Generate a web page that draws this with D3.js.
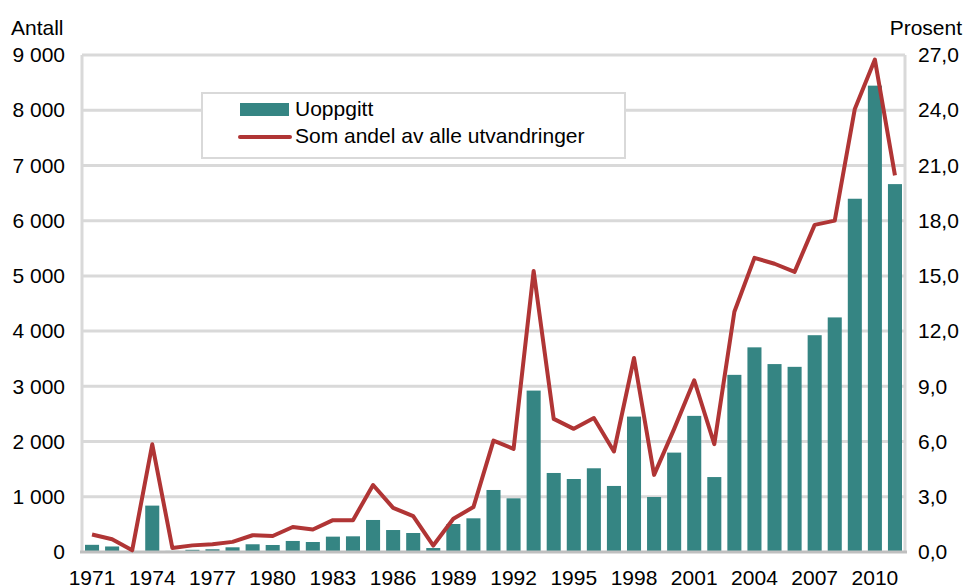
<!DOCTYPE html>
<html>
<head>
<meta charset="utf-8">
<script src="https://cdn.jsdelivr.net/npm/d3@7"></script>
<style>
  body { margin: 0; background: #fff; }
  svg text { font-family: "Liberation Sans", Arial, sans-serif; fill: #000; }
</style>
</head>
<body>
<svg id="chart" width="965" height="586"></svg>
<script>
var years = d3.range(1971, 2012);
var uoppgitt = [130, 100, 10, 840, 20, 40, 50, 85, 140, 127, 200, 181, 278, 284, 580, 398, 344, 72,
	507, 610, 1123, 972, 2923, 1431, 1322, 1516, 1196, 2452, 996, 1800, 2465, 1357,
	3208, 3706, 3403, 3353, 3926, 4248, 6397, 8445, 6662];
var andel = [0.95, 0.69, 0.09, 5.85, 0.22, 0.36, 0.42, 0.55, 0.91, 0.87, 1.36, 1.22, 1.73, 1.73, 3.64, 2.4, 1.95, 0.35,
	1.81, 2.44, 6.05, 5.6, 15.27, 7.23, 6.69, 7.28, 5.46, 10.54, 4.19, 6.69, 9.33, 5.86,
	13.05, 15.98, 15.66, 15.22, 17.77, 18.0, 24.07, 26.75, 20.46];
var leftTicks = d3.range(0, 9001, 1000);
var rightTicks = d3.range(0, 27.1, 3);
var xTickYears = d3.range(1971, 2011, 3);

var svg = d3.select("#chart"),
	margin = {top: 55, right: 60, bottom: 34, left: 82},
	width = 905 - margin.left,
	height = 552 - margin.top,
	g = svg.append("g").attr("transform", "translate(" + margin.left + "," + margin.top + ")");

var x = d3.scaleBand().domain(years).range([0, width]).paddingInner(0.3).paddingOuter(0.15);
var yL = d3.scaleLinear().domain([0, 9000]).range([height, 0]);
var yR = d3.scaleLinear().domain([0, 27]).range([height, 0]);

var fmtL = function(d) { return d3.format(",")(d).replace(/,/g, " "); };
var fmtR = function(d) { return d3.format(".1f")(d).replace(".", ","); };

// gridlines
g.append("g")
	.selectAll("line")
	.data(leftTicks.slice(1))
	.enter().append("line")
	.attr("x1", 0).attr("x2", width)
	.attr("y1", function(d) { return yL(d); })
	.attr("y2", function(d) { return yL(d); })
	.attr("stroke", "#d9d9d9")
	.attr("stroke-width", 3);

// side borders
g.append("line").attr("x1", 0).attr("x2", 0).attr("y1", 0).attr("y2", height)
	.attr("stroke", "#d9d9d9").attr("stroke-width", 3);
g.append("line").attr("x1", width).attr("x2", width).attr("y1", 0).attr("y2", height)
	.attr("stroke", "#d9d9d9").attr("stroke-width", 3);

// bars
g.append("g")
	.selectAll("rect")
	.data(years)
	.enter().append("rect")
	.attr("x", function(d) { return x(d); })
	.attr("width", x.bandwidth())
	.attr("y", function(d, i) { return yL(uoppgitt[i]); })
	.attr("height", function(d, i) { return height - yL(uoppgitt[i]); })
	.attr("fill", "#358583");

// baseline
g.append("line").attr("x1", -2).attr("x2", width + 2).attr("y1", height).attr("y2", height)
	.attr("stroke", "#bfbfbf").attr("stroke-width", 3);

// line
var line = d3.line()
	.x(function(d, i) { return x(years[i]) + x.bandwidth() / 2; })
	.y(function(d) { return yR(d); });

g.append("path")
	.datum(andel)
	.attr("d", line)
	.attr("fill", "none")
	.attr("stroke", "#b03535")
	.attr("stroke-width", 4)
	.attr("stroke-linejoin", "round");

// axes
var axL = g.append("g")
	.call(d3.axisLeft(yL).tickValues(leftTicks).tickFormat(fmtL).tickSize(0).tickPadding(17));
axL.select(".domain").remove();
axL.selectAll("text").style("font-size", "21px");

var axR = g.append("g")
	.attr("transform", "translate(" + width + ",0)")
	.call(d3.axisRight(yR).tickValues(rightTicks).tickFormat(fmtR).tickSize(0).tickPadding(13));
axR.select(".domain").remove();
axR.selectAll("text").style("font-size", "21px");

var axB = g.append("g")
	.attr("transform", "translate(0," + height + ")")
	.call(d3.axisBottom(x).tickValues(xTickYears).tickSize(0).tickPadding(18));
axB.select(".domain").remove();
axB.selectAll("text").style("font-size", "21px");

svg.append("text").attr("x", 11).attr("y", 35).style("font-size", "21px").text("Antall");
svg.append("text").attr("x", 962).attr("y", 35).attr("text-anchor", "end").style("font-size", "21px").text("Prosent");

// legend
var legend = svg.append("g").attr("transform", "translate(202,93)");
legend.append("rect").attr("width", 423).attr("height", 65)
	.attr("fill", "#fff").attr("stroke", "#d9d9d9").attr("stroke-width", 2);
legend.append("rect").attr("x", 38).attr("y", 10).attr("width", 49).attr("height", 13).attr("fill", "#358583");
legend.append("line").attr("x1", 38).attr("x2", 88).attr("y1", 44).attr("y2", 44)
	.attr("stroke", "#b03535").attr("stroke-width", 4).attr("stroke-linecap", "round");
legend.append("text").attr("x", 93).attr("y", 23).style("font-size", "21px").text("Uoppgitt");
legend.append("text").attr("x", 93).attr("y", 50).style("font-size", "21px").text("Som andel av alle utvandringer");
</script>
</body>
</html>
